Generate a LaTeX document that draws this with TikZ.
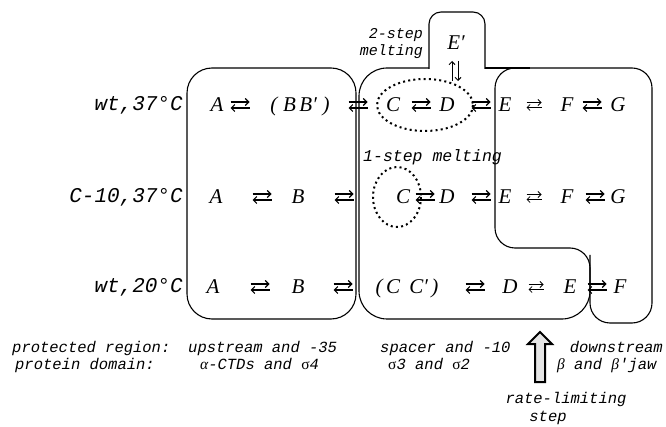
\documentclass[tikz,border=0pt]{standalone}
\usepackage{fontspec}
\setmainfont{Liberation Serif}
\newfontfamily\monof{Liberation Mono}
\usepackage{tikz}
\usetikzlibrary{arrows.meta}

\newcommand{\Equil}[1][19]{%
  \tikz[baseline=-2.5pt,x=1pt,y=1pt,line width=1.1pt]{%
    \draw[-{Straight Barb[length=3.5pt,width=7pt]}] (0,3) -- (#1,3);
    \draw[{Straight Barb[length=3.5pt,width=7pt]}-] (0,-3) -- (#1,-3);}}
\newcommand{\Equsm}{%
  \tikz[baseline=-2.5pt,x=1pt,y=1pt,line width=.8pt]{%
    \draw[-{Straight Barb[length=3pt,width=6pt]}] (0,2.5) -- (15,2.5);
    \draw[{Straight Barb[length=3pt,width=6pt]}-] (0,-2.5) -- (15,-2.5);}}

\begin{document}
\begin{tikzpicture}[x=1pt,y=-1pt,
    box/.style={line width=1.1pt},
    melt/.style={line width=2pt, dash pattern=on 2pt off 3.2pt},
    sp/.style={font=\itshape\fontsize{21}{21}\selectfont, anchor=base, inner sep=0pt},
    eq/.style={inner sep=0pt},
    cond/.style={font=\monof\itshape\fontsize{21}{21}\selectfont, anchor=base east, inner sep=0pt},
    note/.style={font=\monof\itshape\fontsize{15.5}{17}\selectfont, anchor=base west, inner sep=0pt}]
  \useasboundingbox (0,0) rectangle (666,427);

  % regions
  \draw[box, rounded corners=25] (187,68) rectangle (356,319);
  \draw[box, rounded corners=28] (590,255) -- (590,319) -- (359,319) -- (359,68) -- (429,68);
  \draw[box, rounded corners=12] (429,69) -- (429,12) -- (485,12) -- (485,69);
  \draw[box] (485,68) -- (530,68);
  \draw[box, rounded corners=20] (495,150) -- (495,68) -- (652,68) -- (652,323) -- (590,323)
    -- (590,248) -- (495,248) -- cycle;

  % melting
  \draw[melt] (425,105) ellipse [x radius=48, y radius=26];
  \draw[melt] (397,197) ellipse [x radius=24, y radius=30];
  \node[note, anchor=east, align=right, font=\monof\itshape\fontsize{15}{17}\selectfont] (twostep) at (423,44) {2-step\\melting};
  \node[note, font=\monof\itshape\fontsize{16.5}{18}\selectfont] (onestep) at (363,162) {1-step melting};

  % conditions
  \node[cond] (wt37) at (183,111) {wt,37°C};
  \node[cond] (c10) at (183,203) {C-10,37°C};
  \node[cond] (wt20) at (183,293) {wt,20°C};

  % row 1
  \foreach \x/\t/\n in {217/A/a1, 300/{(\;B\,B′\;)}/b1, 393/C/c1, 447/D/d1, 505/E/e1, 567/F/f1, 618/G/g1}
    \node[sp] (\n) at (\x,112) {\t};
  \foreach \x/\n in {240/q11, 358/q12, 421/q13, 481/q14, 592/q16}
    \node[eq] (\n) at (\x,105) {\Equil};
  \node[eq] (q15) at (534,105) {\Equsm};

  % E'
  \node[sp] (ep) at (456,50) {E′};
  \coordinate (vt) at (455,61);
  \coordinate (vb) at (455,81);
  \draw[line width=1pt, -{Straight Barb[length=3pt,width=6pt]}] ([xshift=-3pt]vb) -- ([xshift=-3pt]vt);
  \draw[line width=1pt, -{Straight Barb[length=3pt,width=6pt]}] ([xshift=3pt]vt) -- ([xshift=3pt]vb);

  % row 2
  \foreach \x/\t/\n in {216/A/a2, 298/B/b2, 403/C/c2, 447/D/d2, 505/E/e2, 567/F/f2, 618/G/g2}
    \node[sp] (\n) at (\x,204) {\t};
  \foreach \x/\n in {262/q21, 344/q22, 425/q23, 481/q24, 595/q26}
    \node[eq] (\n) at (\x,197) {\Equil};
  \node[eq] (q25) at (534,197) {\Equsm};

  % row 3
  \foreach \x/\t/\n in {213/A/a3, 298/B/b3, 407/{(\,C\;\,C′\,)}/c3, 510/D/d3, 570/E/e3, 620/F/f3}
    \node[sp] (\n) at (\x,294) {\t};
  \foreach \x/\n in {260/q31, 343/q32, 475/q33, 597/q36}
    \node[eq] (\n) at (\x,287) {\Equil};
  \node[eq] (q35) at (536,287) {\Equsm};

  % legend
  \node[note] (prot) at (12,352) {protected region:};
  \node[note] (up) at (188,352) {upstream and -35};
  \node[note] (spc) at (380,352) {spacer and -10};
  \node[note, anchor=base east] (down) at (663,352) {downstream};
  \node[note] (dom) at (15,369) {protein domain:};
  \node[note] (ctd) at (200,369) {{\rmfamily α}-CTDs and {\rmfamily\upshape σ}4};
  \node[note] (sig) at (388,369) {{\rmfamily\upshape σ}3 and {\rmfamily\upshape σ}2};
  \node[note] (jaw) at (557,369) {{\rmfamily β} and {\rmfamily β}′jaw};
  \node[note, anchor=base] (rate) at (566,403) {rate-limiting};
  \node[note, anchor=base] (stp) at (548,421) {step};

  \draw[line width=2pt, fill=gray!20] (540,332) -- (552,344) -- (545,344) -- (545,382)
    -- (535,382) -- (535,344) -- (528,344) -- cycle;
\end{tikzpicture}
\end{document}
